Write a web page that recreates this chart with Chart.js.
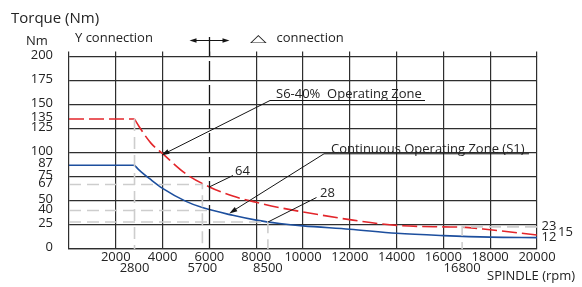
<!DOCTYPE html>
<html><head><meta charset="utf-8">
<script src="https://cdn.jsdelivr.net/npm/chart.js@4/dist/chart.umd.min.js"></script>
<style>html,body{margin:0;padding:0;background:#fff}#wrap{width:582px;height:287px;position:relative}</style>
</head><body><div id="wrap"><canvas id="c" width="582" height="287"></canvas></div>
<script>
// ---- data ----
const rpmS6    = [0, 2800, 3000, 3500, 4000, 5000, 6000, 7000, 8000, 9000, 10000, 12000, 14000, 16000, 16800, 18000, 20000];
const torqueS6 = [135, 135, 127, 110, 99, 78, 64.5, 55, 48.5, 43, 38.5, 30.5, 24.5, 23, 22.7, 20, 14.5];
const rpmS1    = [0, 2800, 3000, 3500, 4000, 5000, 5700, 7000, 8000, 9000, 10000, 12000, 14000, 16000, 18000, 20000];
const torqueS1 = [87, 87, 82, 72, 63, 49.5, 43, 35, 30, 26.5, 24, 20.5, 16.3, 13.9, 12.3, 11.8];

const guide67Rpm = [0, 5700, 5700],   guide67Tq = [67, 67, 0];
const guide40Rpm = [0, 6100],         guide40Tq = [40, 40];
const guide28Rpm = [0, 8500, 8500],   guide28Tq = [28, 28, 0];
const guide135Rpm = [2800, 2800],     guide135Tq = [135, 0];
const guide23Rpm = [20000, 16800, 16800], guide23Tq = [23, 23, 0];

const yTickValues = [0, 25, 40, 50, 67, 75, 87, 100, 125, 135, 150, 175, 200];
const xTickValues = [2000, 4000, 6000, 8000, 10000, 12000, 14000, 16000, 18000, 20000];
const xMarkValues = [2800, 5700, 8500, 16800];
const switchRpm = 6000;

const TEXT = '#232323';
const GRID = '#2e2e2e';
const RED = '#e3262b';
const BLUE = '#1d4f9e';
const GUIDE = '#cdcdcd';
const FONT = '"Open Sans", "Noto Sans", sans-serif';

const pts = (xs, ys) => xs.map((v, i) => ({x: v, y: ys[i]}));

function guide(xs, ys, solid) {
  return {data: pts(xs, ys), borderColor: GUIDE, borderWidth: 1.6, borderDash: solid ? [] : [12, 6],
          pointRadius: 0, tension: 0, fill: false};
}

function arrowHead(ctx, fx, fy, tx, ty, len, w) {
  const a = Math.atan2(ty - fy, tx - fx);
  ctx.beginPath();
  ctx.moveTo(tx, ty);
  ctx.lineTo(tx - len * Math.cos(a) + w * Math.sin(a), ty - len * Math.sin(a) - w * Math.cos(a));
  ctx.lineTo(tx - len * Math.cos(a) - w * Math.sin(a), ty - len * Math.sin(a) + w * Math.cos(a));
  ctx.closePath();
  ctx.fill();
}
function seg(ctx, x1, y1, x2, y2) { ctx.beginPath(); ctx.moveTo(x1, y1); ctx.lineTo(x2, y2); ctx.stroke(); }

const annot = {
  id: 'annot',
  afterDraw(chart) {
    const {ctx, chartArea, scales: {x, y}} = chart;
    const X = v => x.getPixelForValue(v), Y = v => y.getPixelForValue(v);
    ctx.save();
    ctx.fillStyle = TEXT; ctx.strokeStyle = '#151515';
    // Y / delta switching line
    const sx = Math.round(X(switchRpm)) + 0.5;
    ctx.lineWidth = 1.3; ctx.setLineDash([19, 5]);
    seg(ctx, sx, 37, sx, chartArea.bottom);
    ctx.setLineDash([]);
    ctx.lineWidth = 1.2;
    seg(ctx, sx - 18, 40.5, sx + 18, 40.5);
    ctx.fillStyle = '#151515';
    arrowHead(ctx, sx, 40.5, sx - 20, 40.5, 7, 2.3);
    arrowHead(ctx, sx, 40.5, sx + 20, 40.5, 7, 2.3);

    ctx.fillStyle = TEXT;
    ctx.textBaseline = 'alphabetic'; ctx.textAlign = 'left';
    ctx.font = '15px ' + FONT;
    ctx.fillText('Torque (Nm)', 11, 22.5);
    ctx.font = '13px ' + FONT;
    ctx.fillText('Nm', 26, 44.5);
    ctx.fillText('Y connection', 75, 42);
    ctx.font = '14px "DejaVu Sans", sans-serif';
    ctx.save(); ctx.translate(250, 42); ctx.scale(1.55, 0.75);
    ctx.fillText('△', 0, 0); ctx.restore();
    ctx.font = '13px ' + FONT;
    ctx.fillText('connection', 276.5, 42);

    // S6 annotation
    ctx.lineWidth = 1;
    ctx.fillText('S6-40%  Operating Zone', 276, 98);
    seg(ctx, 270, 100.5, 425, 100.5);
    const s6x = X(3950), s6y = Y(97.5);
    seg(ctx, 270, 100.5, s6x + 3, s6y - 1.5);
    ctx.fillStyle = '#151515';
    arrowHead(ctx, 270, 100.5, s6x, s6y, 8, 2.5);
    ctx.fillStyle = TEXT;

    // S1 annotation
    ctx.fillText('Continuous Operating Zone (S1)', 331, 152.5);
    seg(ctx, 324, 153.8, 529, 153.8);
    const s1x = X(6850), s1y = Y(37);
    seg(ctx, 324, 153.8, s1x + 3, s1y - 2);
    ctx.fillStyle = '#151515';
    arrowHead(ctx, 324, 153.8, s1x, s1y, 8, 2.5);
    ctx.fillStyle = TEXT;

    // 64 / 28 callouts
    ctx.fillText('64', 235, 174.5);
    seg(ctx, 233, 175.5, X(6000), Y(64.5));
    ctx.fillText('28', 320, 197);
    seg(ctx, 316.5, 197.5, X(8500), Y(28));

    // right end values
    ctx.fillText('23', 541.5, 229.5);
    ctx.fillText('12', 541.5, 240.5);
    ctx.fillText('15', 558, 236);
    ctx.fillText('SPINDLE (rpm)', 487, 279.5);
    ctx.restore();
  }
};

new Chart(document.getElementById('c'), {
  type: 'line',
  data: {
    datasets: [
      guide(guide67Rpm, guide67Tq),
      guide(guide40Rpm, guide40Tq),
      guide(guide28Rpm, guide28Tq),
      guide(guide135Rpm, guide135Tq),
      guide(guide23Rpm, guide23Tq),
      {data: pts(rpmS6.slice(0, 2), torqueS6.slice(0, 2)), borderColor: RED, borderWidth: 1.6, borderDash: [15, 5], pointRadius: 0, tension: 0},
      {data: pts(rpmS6.slice(1), torqueS6.slice(1)), borderColor: RED, borderWidth: 1.6, borderDash: [15, 5], pointRadius: 0, cubicInterpolationMode: 'monotone'},
      {data: pts(rpmS1.slice(0, 2), torqueS1.slice(0, 2)), borderColor: BLUE, borderWidth: 1.6, pointRadius: 0, tension: 0},
      {data: pts(rpmS1.slice(1), torqueS1.slice(1)), borderColor: BLUE, borderWidth: 1.6, pointRadius: 0, cubicInterpolationMode: 'monotone'}
    ]
  },
  options: {
    responsive: false, animation: false, devicePixelRatio: 1,
    layout: {padding: {top: 51.5, right: 45, left: 0, bottom: 0}},
    plugins: {legend: {display: false}, tooltip: {enabled: false}},
    scales: {
      x: {
        type: 'linear', min: 0, max: 20000, position: 'bottom',
        afterBuildTicks: s => { s.ticks = xTickValues.concat(xMarkValues).sort((a, b) => a - b).map(v => ({value: v})); },
        afterFit: s => { s.height = 38; },
        ticks: {
          autoSkip: false, maxRotation: 0, padding: 3, color: TEXT,
          font: {family: FONT, size: 13, lineHeight: 0.85},
          callback: v => xMarkValues.includes(v) ? ['', String(v)] : String(v)
        },
        grid: {
          drawTicks: false, lineWidth: 1.2,
          color: c => (c.tick && xTickValues.includes(c.tick.value) && c.tick.value !== switchRpm) ? GRID : 'rgba(0,0,0,0)'
        },
        border: {display: true, color: GRID, width: 1.2}
      },
      x2: {
        type: 'linear', min: 0, max: 20000, position: 'top',
        ticks: {display: false, stepSize: 2000},
        grid: {drawOnChartArea: false, drawTicks: true, tickLength: 5, color: GRID, lineWidth: 1.2},
        border: {display: false}
      },
      y: {
        type: 'linear', min: 0, max: 200,
        afterBuildTicks: s => { s.ticks = yTickValues.map(v => ({value: v})); },
        afterFit: s => { s.width = 69; },
        ticks: {autoSkip: false, padding: 16, labelOffset: -1.5, color: TEXT, font: {family: FONT, size: 13}},
        grid: {
          drawTicks: false, lineWidth: 1.2,
          color: c => (c.tick && c.tick.value % 25 === 0) ? GRID : 'rgba(0,0,0,0)'
        },
        border: {display: true, color: GRID, width: 1.2}
      }
    }
  },
  plugins: [annot]
});
</script>
</body></html>
